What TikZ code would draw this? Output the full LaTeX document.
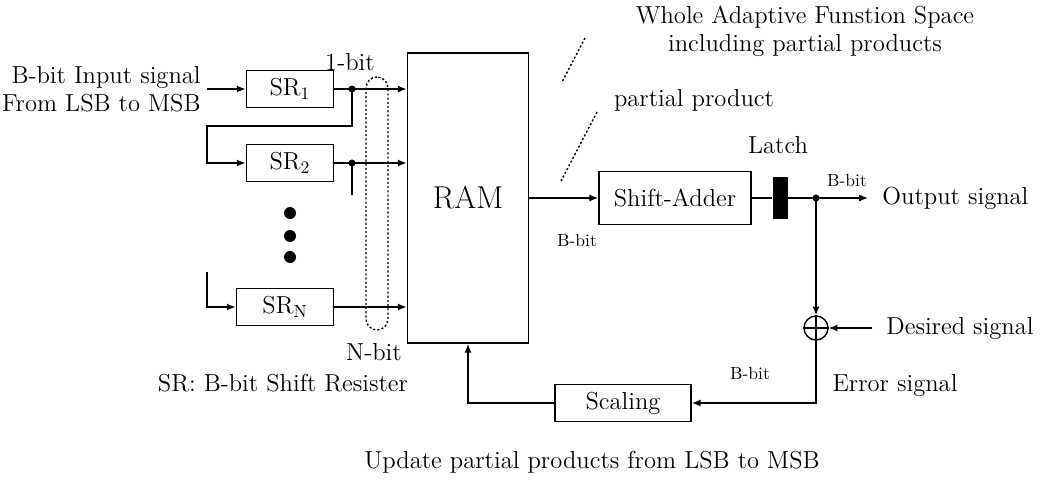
\documentclass[tikz,border=0pt]{standalone}
\usepackage{xcolor}
\usepackage{tikz}
\usetikzlibrary{arrows.meta, positioning, calc}
\newcommand{\lblfont}{\fontsize{14}{16}\selectfont}
\newcommand{\bigfont}{\fontsize{18}{20}\selectfont}
\newcommand{\tinyfont}{\fontsize{10}{12}\selectfont}
\tikzset{
  box/.style={rectangle, draw, line width=1pt, font=\lblfont, inner sep=0pt},
  lbl/.style={font=\lblfont, inner sep=0pt},
  small/.style={font=\tinyfont, inner sep=0pt},
  arrow/.style={-{Latex[length=5pt, width=4pt]}, line width=0.8pt},
  line/.style={draw, line width=0.8pt},
  dot/.style={circle, fill, inner sep=0pt, minimum size=4pt},
  bigdot/.style={circle, fill, inner sep=0pt, minimum size=0.24cm},
  leader/.style={line width=0.8pt, dash pattern=on 1.2pt off 1.2pt}
}

\begin{document}
\begin{tikzpicture}[x=0.02cm, y=-0.02cm]
  \useasboundingbox (0,0) rectangle (1047,480);

  % Input side
  \node[lbl, align=right, anchor=east] (inp) at (201,89) {B-bit Input signal\\From LSB to MSB};
  \coordinate (in) at (207,89);

  % Shift registers
  \node[box, minimum width=1.74cm, minimum height=0.74cm] (sr1) at (290,89) {SR$_1$};
  \node[box, minimum width=1.74cm, minimum height=0.74cm] (sr2) at (290,163) {SR$_2$};
  \node[box, minimum width=1.94cm, minimum height=0.74cm] (srn) at (285,307) {SR$_\mathrm{N}$};
  \foreach \yy in {213,236,257}
    \node[bigdot] at (290,\yy) {};

  % RAM and the output path
  \node[box, font=\bigfont, minimum width=2.42cm, minimum height=5.8cm] (ram) at (468,198) {RAM};
  \node[box, minimum width=3.04cm, minimum height=1.06cm] (sa) at (675,198) {Shift-Adder};
  \node[rectangle, fill=black, minimum width=0.3cm, minimum height=0.84cm, inner sep=0pt] (latch) at (780,198) {};
  \node[circle, draw, line width=0.8pt, minimum size=0.48cm, inner sep=0pt] (sum) at (816,328) {};
  \node[box, minimum width=2.72cm, minimum height=0.74cm] (sc) at (623,403) {Scaling};

  % Junctions
  \node[dot] (j1) at (352,89) {};
  \node[dot] (j2) at (352,163) {};
  \node[dot] (jo) at (816,198) {};
  \coordinate (fb1) at (207,126);
  \coordinate (fbn) at (207,272);
  \coordinate (st2) at (352,195);

  % N-bit bus
  \node[draw, leader, rounded corners=0.22cm, minimum width=0.44cm, minimum height=5.06cm, inner sep=0pt] (bus) at (377,203.5) {};

  % Labels
  \node[lbl] (onebit) at (350,62) {1-bit};
  \node[lbl] (nbit) at (374,352) {N-bit};
  \node[lbl] (note) at (283,383) {SR: B-bit Shift Resister};
  \node[lbl, align=center] (whole) at (805,31) {Whole Adaptive Funstion Space\\including partial products};
  \node[lbl] (pp) at (694,100) {partial product};
  \node[small] (b1) at (577,240) {B-bit};
  \node[lbl] (lt) at (778,145) {Latch};
  \node[small] (b2) at (847,180) {B-bit};
  \node[lbl, anchor=west] (outtxt) at (868,198) {\hspace{8pt}Output signal};
  \node[lbl, anchor=west] (dsg) at (872,328) {\hspace{8pt}Desired signal};
  \node[small] (b3) at (750,373) {B-bit};
  \node[lbl] (err) at (895,385) {Error signal};
  \node[lbl] (upd) at (592,462) {Update partial products from LSB to MSB};

  % Leader lines
  \coordinate (w1) at (585,38);
  \coordinate (w2) at (562,82);
  \coordinate (p1) at (597,112);
  \coordinate (p2) at (560,183);
  \draw[leader] (w1) -- (w2);
  \draw[leader] (p1) -- (p2);

  % Connections
  \draw[arrow] (in) -- (sr1.west);
  \draw[arrow] (sr1.east) -- (sr1.east -| ram.west);
  \draw[arrow] (sr2.east) -- (sr2.east -| ram.west);
  \draw[arrow] (srn.east) -- (srn.east -| ram.west);
  \draw[arrow] (j1.center) |- (fb1) |- (sr2.west);
  \draw[line] (j2.center) -- (st2);
  \draw[arrow] (fbn) |- (srn.west);
  \draw[arrow] (ram.east) -- (sa.west);
  \draw[line] (sa.east) -- (latch.west);
  \draw[line] (latch.east) -- (jo.center);
  \draw[arrow] (jo.center) -- (outtxt.west);
  \draw[arrow] (jo.center) -- (sum.north);
  \draw[line] (sum.north) -- (sum.south);
  \draw[line] (sum.west) -- (sum.east);
  \draw[arrow] (dsg.west) -- (sum.east);
  \draw[arrow] (sum.south) |- (sc.east);
  \draw[arrow] (sc.west) -| (ram.south);
\end{tikzpicture}
\end{document}
